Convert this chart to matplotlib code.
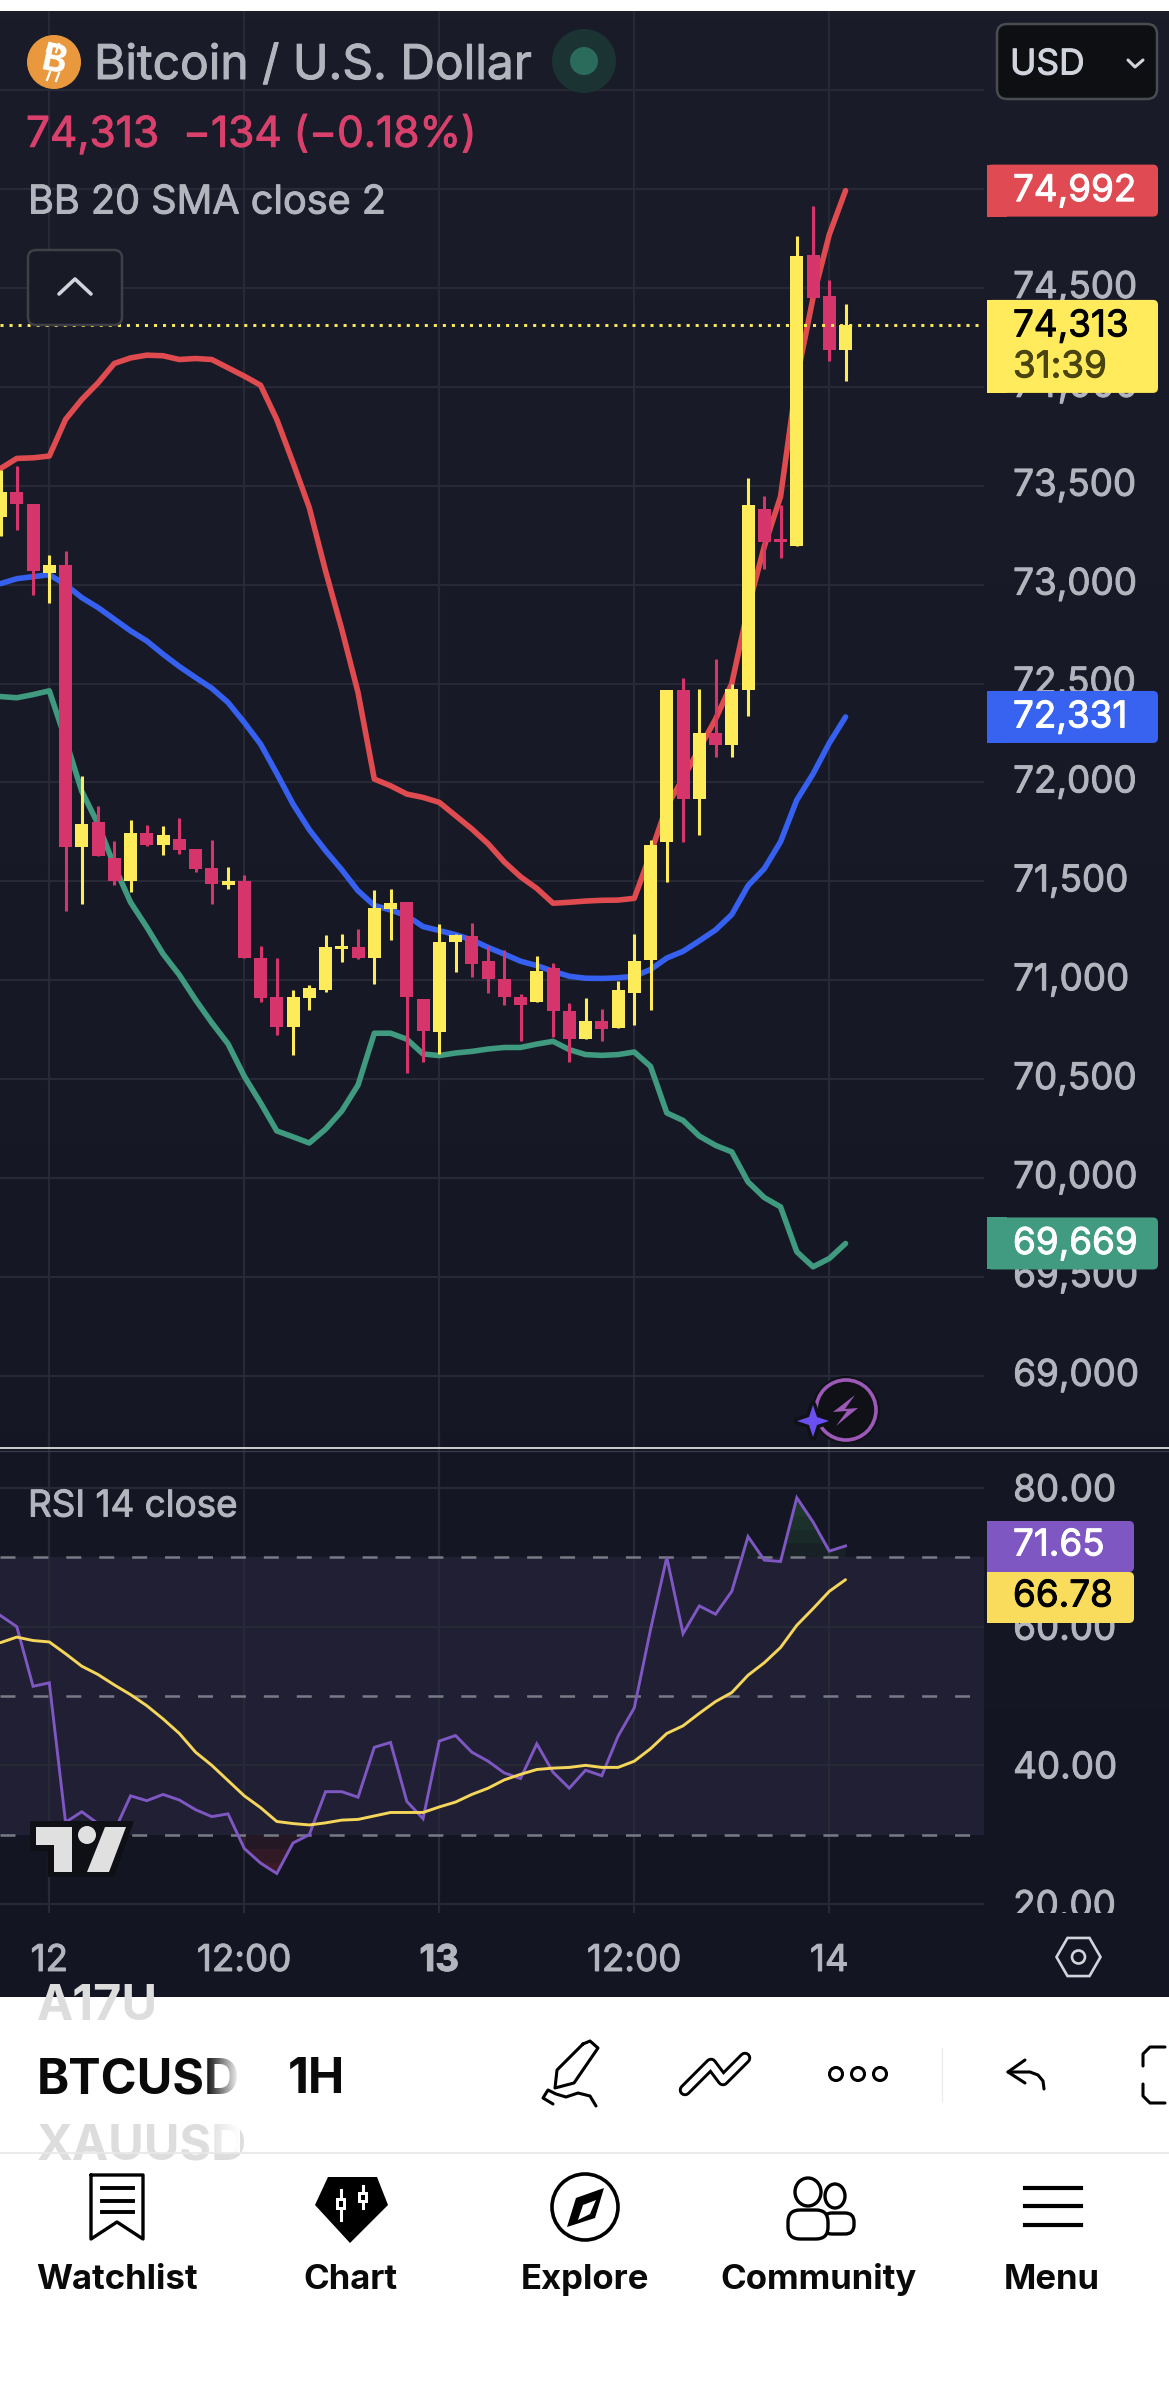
import numpy as np
import matplotlib
matplotlib.use("Agg")
import matplotlib.pyplot as plt
import matplotlib.patheffects as pe
from matplotlib.patches import Circle, Ellipse, FancyBboxPatch, Polygon, Rectangle, RegularPolygon
from matplotlib.transforms import Affine2D, Bbox

plt.rcParams['font.family'] = ['Inter', 'DejaVu Sans']
plt.rcParams['lines.scale_dashes'] = False

# hourly BTCUSD bars, hour 0 is the start of the 12th
hours = list(range(-3, 50))
opens = [73340, 73468, 73409, 73059, 73098, 71674, 71800, 71616, 71504, 71746, 71684, 71713, 71665, 71568, 71481,
         71504, 71114, 70916, 70765, 70910, 70951, 71160, 71168, 71114, 71361, 71396, 70903, 70736, 71191, 71225,
         71099, 71007, 70916, 70891, 71062, 70846, 70701, 70796, 70756, 70937, 71102, 71700, 72465, 71916, 72248,
         72188, 72465, 73383, 73221, 73197, 74668, 74457, 74184]
highs = [73581, 73598, 73409, 73148, 73168, 72032, 71881, 71705, 71810, 71785, 71781, 71821, 71665, 71709, 71574,
         71531, 71173, 71114, 70951, 70978, 71230, 71235, 71261, 71458, 71462, 71396, 70903, 71285, 71235, 71288,
         71171, 71153, 70928, 71124, 71089, 70883, 70912, 70853, 70994, 71235, 71709, 72465, 72530, 72470, 72626,
         72500, 73541, 73449, 73403, 74764, 74915, 74541, 74420]
lows = [73244, 73274, 72946, 72906, 71351, 71384, 71630, 71481, 71446, 71678, 71632, 71640, 71547, 71384, 71462,
        71110, 70891, 70721, 70624, 70850, 70938, 71094, 71108, 70982, 71204, 70529, 70585, 70625, 71040, 71017,
        70933, 70875, 70691, 70891, 70711, 70585, 70701, 70694, 70756, 70774, 70848, 71494, 71700, 71733, 72128,
        72128, 72337, 73078, 73137, 73197, 74448, 74133, 74030]
closes = [73468, 73406, 73067, 73098, 71674, 71790, 71630, 71500, 71746, 71684, 71732, 71659, 71562, 71485, 71504,
          71110, 70910, 70765, 70916, 70959, 71168, 71175, 71114, 71365, 71392, 70916, 70741, 71194, 71228, 71082,
          71004, 70916, 70873, 71049, 70843, 70702, 70796, 70752, 70948, 71097, 71682, 72465, 71916, 72248, 72188,
          72470, 73400, 73214, 73214, 74663, 74448, 74187, 74313]

bb_upper = [73587, 73638, 73641, 73650, 73835, 73936, 74020, 74118, 74146, 74160, 74157, 74138, 74143, 74138, 74096,
            74054, 74008, 73835, 73616, 73389, 73069, 72774, 72454, 72017, 71983, 71941, 71924, 71899, 71832, 71765,
            71690, 71598, 71523, 71464, 71389, 71394, 71400, 71404, 71405, 71414, 71640, 71880, 72020, 72170, 72320,
            72500, 72880, 73193, 73445, 74040, 74450, 74770, 74992]
bb_basis = [73005, 73030, 73040, 73050, 73000, 72934, 72884, 72825, 72766, 72715, 72648, 72586, 72530, 72476, 72404,
            72303, 72194, 72045, 71890, 71761, 71655, 71558, 71452, 71378, 71355, 71326, 71271, 71251, 71230, 71204,
            71166, 71132, 71096, 71074, 71045, 71020, 71010, 71009, 71012, 71020, 71054, 71112, 71146, 71199, 71254,
            71332, 71478, 71564, 71700, 71911, 72043, 72199, 72331]
bb_lower = [72434, 72428, 72444, 72463, 72216, 71955, 71790, 71578, 71394, 71268, 71133, 71027, 70901, 70785, 70678,
            70514, 70380, 70238, 70208, 70177, 70247, 70339, 70470, 70732, 70732, 70702, 70627, 70619, 70632, 70640,
            70652, 70660, 70660, 70677, 70691, 70649, 70624, 70620, 70624, 70637, 70564, 70329, 70291, 70212, 70165,
            70132, 69980, 69901, 69854, 69627, 69551, 69593, 69669]

rsi = [61.6, 60.0, 51.4, 51.9, 31.8, 33.3, 31.6, 30.5, 35.6, 34.9, 35.8, 35.0, 33.6, 32.6, 33.0, 28.0, 25.9, 24.4,
       28.8, 30.0, 36.2, 36.2, 35.4, 42.6, 43.3, 34.8, 32.3, 43.5, 44.3, 41.9, 40.6, 38.9, 38.1, 43.1, 39.0, 36.7,
       39.3, 38.5, 44.2, 48.3, 59.6, 70.0, 59.0, 63.0, 61.8, 65.1, 73.0, 69.6, 69.4, 78.6, 75.1, 70.9, 71.65]
rsi_ma = [57.7, 58.5, 58.0, 57.8, 56.1, 54.3, 53.1, 51.6, 50.2, 48.6, 46.7, 44.6, 41.9, 40.0, 37.8, 35.6, 33.9, 31.9,
          31.6, 31.4, 31.7, 32.1, 32.2, 32.7, 33.2, 33.2, 33.2, 34.0, 34.7, 35.8, 36.7, 37.9, 38.7, 39.4, 39.6, 39.7,
          40.0, 39.7, 39.7, 40.6, 42.4, 44.6, 45.7, 47.5, 49.2, 50.5, 53.0, 54.8, 57.0, 60.2, 62.6, 65.1, 66.78]

price_ticks = [69000, 69500, 70000, 70500, 71000, 71500, 72000, 72500, 73000, 73500, 74000, 74500]
price_grid_extra = [75000, 75500]
rsi_ticks = [20, 40, 60, 80]
rsi_levels = [30, 50, 70]
time_ticks = [0, 12, 24, 36, 48]
time_labels = ['12', '12:00', '13', '12:00', '14']
countdown = '31:39'

W, H = 1169, 2401
UP = '#FDEB5A'
DOWN = '#D5356A'
GRID = '#272A36'
TXT = '#B2B5BE'
UI_FONT = 26.5


def px_axes(x0, y0, x1, y1, **kw):
    return fig.add_axes([x0 / W, 1 - y1 / H, (x1 - x0) / W, (y1 - y0) / H], **kw)


def to_px(axes, v):
    return H - axes.transData.transform((0, v))[1]


def badge(x0, y0, x1, y1, color, r=5):
    ui.add_patch(FancyBboxPatch((x0 + r, y0 + r), x1 - x0 - 2 * r, y1 - y0 - 2 * r,
                                boxstyle='round,pad=%d' % r, fc=color, ec='none', zorder=5))
    ui.add_patch(Rectangle((x0, y0), 20, y1 - y0, fc=color, ec='none', zorder=5))


def stroke(xs, ys, color='black', lw=2.2, z=8):
    ui.plot(xs, ys, color=color, lw=lw, zorder=z, solid_capstyle='round', solid_joinstyle='round')


def heavy(color, w=0.7):
    # Inter only comes as regular and bold here, fatten the regular a little
    return [pe.withStroke(linewidth=w, foreground=color)]


def label(x, y, s, color, size, z=6, **kw):
    return ui.text(x, y, s, color=color, fontsize=size, va='center', zorder=z, path_effects=heavy(color), **kw)


fig = plt.figure(figsize=(W / 100, H / 100), dpi=100, facecolor='white')

# dark chart backdrop
bg = px_axes(0, 11, W, 1997, zorder=0)
top_c = np.array([0x1A, 0x1D, 0x29]) / 255
bot_c = np.array([0x13, 0x16, 0x22]) / 255
t = np.linspace(0, 1, 256)[:, None, None]
bg.imshow(top_c[None, None, :] * (1 - t) + bot_c[None, None, :] * t, aspect='auto')
bg.axis('off')

# price pane
ax = px_axes(0, 11, 984, 1448, zorder=1)
ax.patch.set_visible(False)
ax.set_xlim((0 - 49.3) / 16.25, (984 - 49.3) / 16.25)
ax.set_ylim(68635, 75900)
for s in ax.spines.values():
    s.set_visible(False)
ax.hlines(price_ticks + price_grid_extra, ax.get_xlim()[0], ax.get_xlim()[1], color=GRID, lw=1.6, zorder=1)
ax.vlines(time_ticks, 68635, 75900, color=GRID, lw=1.6, zorder=1)
ax.yaxis.tick_right()
ax.set_yticks(price_ticks)
ax.set_yticklabels(['{:,}'.format(p) for p in price_ticks], fontsize=UI_FONT, color=TXT)
ax.tick_params(axis='y', length=0, pad=21)
ax.set_xticks([])
for lab in ax.get_yticklabels():
    lab.set_transform(lab.get_transform() + Affine2D().translate(0, 3))
    lab.set_path_effects(heavy(TXT))

ax.plot(hours, bb_upper, color='#E04B50', lw=4, zorder=2, solid_capstyle='round')
ax.plot(hours, bb_basis, color='#3660F0', lw=4, zorder=2, solid_capstyle='round')
ax.plot(hours, bb_lower, color='#3F9A7F', lw=4, zorder=2, solid_capstyle='round')

colors = [UP if c >= o else DOWN for o, c in zip(opens, closes)]
ax.vlines(hours, lows, highs, colors=colors, lw=2.2, zorder=3)
body_low = [min(o, c) for o, c in zip(opens, closes)]
body_h = [max(abs(c - o), 15) for o, c in zip(opens, closes)]
ax.bar(hours, body_h, bottom=body_low, width=0.8, color=colors, zorder=3)

ax.plot(ax.get_xlim(), [closes[-1], closes[-1]], color=UP, lw=2.1, dashes=(2.2, 4.3), zorder=4)

# RSI pane
rx = px_axes(0, 1449, 984, 1913, zorder=1)
rx.patch.set_visible(False)
rx.set_xlim(ax.get_xlim())
rx.set_ylim(18.7, 85.63)
for s in rx.spines.values():
    s.set_visible(False)
rx.axhspan(rsi_levels[0], rsi_levels[2], color='#201F33', lw=0, zorder=0.5)
rx.hlines(rsi_ticks, rx.get_xlim()[0], rx.get_xlim()[1], color=GRID, lw=1.6, zorder=1)
rx.vlines(time_ticks, 18.7, 85.63, color=GRID, lw=1.6, zorder=1)
for lvl in rsi_levels:
    rx.plot(rx.get_xlim(), [lvl, lvl], color='#787B86', lw=1.8, dashes=(10.8, 12.9), zorder=2)

# shaded excursions outside the 30-70 band, darker near the band edge
for top in [70, 72, 74, 76]:
    rx.fill_between(hours, top, rsi, where=[v > top for v in rsi], interpolate=True,
                    color='#2A5A3A', alpha=0.16, lw=0, zorder=1.5)
for low in [30, 28, 26]:
    rx.fill_between(hours, low, rsi, where=[v < low for v in rsi], interpolate=True,
                    color='#6A2430', alpha=0.2, lw=0, zorder=1.5)

rx.plot(hours, rsi, color='#7E57C2', lw=2.1, zorder=3, solid_joinstyle='miter')
rx.plot(hours, rsi_ma, color='#F5D65A', lw=2.1, zorder=3, solid_capstyle='round')

rx.yaxis.tick_right()
rx.set_yticks(rsi_ticks)
rx.set_yticklabels(['%.2f' % v for v in rsi_ticks], fontsize=UI_FONT, color=TXT)
rx.tick_params(axis='y', length=0, pad=21)
rx.set_xticks(time_ticks)
rx.set_xticklabels(time_labels, fontsize=UI_FONT, color=TXT)
rx.tick_params(axis='x', length=0, pad=23)
rx.get_xticklabels()[2].set_fontweight('bold')
pane_clip = Bbox([[0, H - 1913], [W, H - 1449]])
for lab in rx.get_yticklabels():
    lab.set_clip_box(pane_clip)
    lab.set_clip_on(True)
    lab.set_path_effects(heavy(TXT))
for lab in rx.get_xticklabels():
    lab.set_path_effects(heavy(TXT))

# everything else is drawn in pixel space on top
ui = fig.add_axes([0, 0, 1, 1], zorder=3)
ui.patch.set_visible(False)
ui.set_xlim(0, W)
ui.set_ylim(H, 0)
ui.axis('off')

ui.plot([0, W], [1448, 1448], color='white', lw=1.1, zorder=4)
ui.plot([0, W], [1451, 1451], color='#3A3D48', lw=0.9, zorder=4)

# header
ui.add_patch(Circle((54, 62), 27, fc='#E9983E', ec='none', zorder=5))
ui.text(54, 62, 'B', color='white', fontsize=27, fontweight='bold', rotation=-12, ha='center', va='center', zorder=6)
ui.plot([50, 47], [43, 51], color='white', lw=1.6, zorder=6)
ui.plot([59, 56], [44, 52], color='white', lw=1.6, zorder=6)
ui.plot([50, 47], [72, 80], color='white', lw=1.6, zorder=6)
ui.plot([59, 56], [73, 81], color='white', lw=1.6, zorder=6)
label(94, 66, 'Bitcoin / U.S. Dollar', TXT, 34.5)
ui.add_patch(Circle((584, 61), 32, fc='#1B3333', ec='none', zorder=5))
ui.add_patch(Circle((584, 61), 14, fc='#2B6B5C', ec='none', zorder=6))
label(26, 135, '{:,}  −134 (−0.18%)'.format(closes[-1]), '#D9416C', 30.5)
label(28, 203, 'BB 20 SMA close 2', TXT, 28.5)
label(28, 1507, 'RSI 14 close', TXT, 26.5)
ui.add_patch(FancyBboxPatch((36, 258), 78, 59, boxstyle='round,pad=8', fc='#181B26', ec='#3E4046', lw=1.8, zorder=5))
stroke([59, 75, 91], [294, 279, 294], color='#D1D4DC', lw=2.6, z=6)

# currency selector
ui.add_patch(FancyBboxPatch((1007, 34), 140, 55, boxstyle='round,pad=10', fc='#0E0F13', ec='#4A4C52', lw=1.8, zorder=5))
label(1010, 65, 'USD', '#D1D4DC', 25.5)
stroke([1128, 1135, 1143], [60, 67, 60], color='#D1D4DC', lw=2.2, z=6)

# last value labels on the scale
TXT_X = 1013
y_up = to_px(ax, bb_upper[-1])
badge(987, y_up - 26, 1158, y_up + 26, '#E04A52')
label(TXT_X, y_up + 1, '{:,}'.format(bb_upper[-1]), 'white', UI_FONT)
y_c = to_px(ax, closes[-1])
badge(987, y_c - 25, 1158, y_c + 68, '#FFEB5B')
label(TXT_X, y_c + 2, '{:,}'.format(closes[-1]), 'black', UI_FONT)
label(TXT_X, y_c + 43, countdown, '#4A4410', UI_FONT)
y_m = to_px(ax, bb_basis[-1])
badge(987, y_m - 26, 1158, y_m + 26, '#3763F0')
label(TXT_X, y_m + 1, '{:,}'.format(bb_basis[-1]), 'white', UI_FONT)
y_l = to_px(ax, bb_lower[-1])
badge(987, y_l - 26, 1158, y_l + 26, '#419B80')
label(TXT_X, y_l + 1, '{:,}'.format(bb_lower[-1]), 'white', UI_FONT)

badge(987, 1521, 1134, 1572, '#7E57C2')
label(TXT_X, 1546, '%.2f' % rsi[-1], 'white', UI_FONT)
badge(987, 1572, 1134, 1623, '#F9DC5C')
label(TXT_X, 1597, '%.2f' % rsi_ma[-1], 'black', UI_FONT)

# lightning badge near the bottom of the price pane
ui.add_patch(Circle((846, 1410), 34, fc='#101116', ec='none', zorder=5))
ui.add_patch(Circle((846, 1410), 30, fc='#101116', ec='#9C59B8', lw=2.6, zorder=5))
ui.add_patch(Polygon([(855, 1395), (833, 1412), (847, 1411), (836, 1426), (858, 1408), (845, 1409)],
                     fc='#9C59B8', ec='none', zorder=6))
star = [(813, 1405), (817, 1417), (829, 1421), (817, 1425), (813, 1437), (809, 1425), (797, 1421), (809, 1417)]
ui.add_patch(Polygon(star, fc='#6B4FF0', ec='#101116', lw=5, zorder=6, joinstyle='round'))
ui.add_patch(Polygon(star, fc='#6B4FF0', ec='none', zorder=6.5))

# watermark
logo_bg = [(30, 1821), (134, 1821), (114, 1877), (48, 1877), (48, 1851), (30, 1851)]
ui.add_patch(Polygon(logo_bg, fc='#0F1016', ec='none', zorder=5))
ui.add_patch(Polygon([(36, 1827), (72, 1827), (72, 1872), (54, 1872), (54, 1845), (36, 1845)], fc='#E0E0E0', ec='none', zorder=6))
ui.add_patch(Circle((87, 1835), 9, fc='#E0E0E0', ec='none', zorder=6))
ui.add_patch(Polygon([(105, 1827), (126, 1827), (109, 1872), (87, 1872)], fc='#E0E0E0', ec='none', zorder=6))

# settings hexagon
ui.add_patch(RegularPolygon((1078.5, 1957), 6, radius=22, orientation=np.pi / 2, fc='none', ec='#D1D4DC', lw=1.9, zorder=6))
ui.add_patch(Circle((1078.5, 1957), 6.5, fc='none', ec='#D1D4DC', lw=1.9, zorder=6))

# symbol bar, the neighbouring rows are cut by the list edges
ui.text(37, 2007, 'A17U', color='#DDDDDD', fontsize=35, fontweight='bold', va='center', zorder=6,
        clip_on=True, clip_box=Bbox([[0, H - 2100], [239, H - 1997]]))
ui.text(37, 2080, 'BTCUSD', color='#0A0A0A', fontsize=35, fontweight='bold', va='center', zorder=6,
        clip_on=True, clip_box=Bbox([[0, 0], [239, H]]))
ui.text(288, 2080, '1H', color='#0A0A0A', fontsize=35, fontweight='bold', va='center', zorder=6)
ui.text(37, 2146, 'XAUUSD', color='#DDDDDD', fontsize=35, fontweight='bold', va='center', zorder=6,
        clip_on=True, clip_box=Bbox([[0, H - 2153], [239, H - 2100]]))
fade = np.ones((1, 64, 4))
fade[0, :, 3] = np.linspace(0, 1, 64)
ui.imshow(fade, extent=(205, 240, 2153, 1998), aspect='auto', zorder=7)
ui.set_xlim(0, W)
ui.set_ylim(H, 0)

# toolbar icons
stroke([583, 590, 598, 574, 555, 557, 583], [2044, 2041, 2048, 2083, 2088, 2070, 2044], lw=2.2)
stroke([553, 543, 548, 556, 566, 578, 590, 596], [2104, 2098, 2090, 2094, 2097, 2093, 2096, 2106], lw=2.2)
stroke([685, 711, 723, 745], [2090, 2064, 2080, 2058], lw=9)
stroke([685, 711, 723, 745], [2090, 2064, 2080, 2058], color='white', lw=4.8, z=9)
for cx in [836, 858, 880]:
    ui.add_patch(Circle((cx, 2074), 6.5, fc='none', ec='black', lw=2.2, zorder=8))
ui.plot([942, 942], [2048, 2102], color='#EEEEEE', lw=1, zorder=6)
stroke([1025, 1008, 1025], [2060, 2072, 2083], lw=2.2)
stroke([1008, 1030, 1038, 1043, 1044], [2072, 2072, 2075, 2081, 2089], lw=2.2)
stroke([1165, 1150, 1143, 1143], [2047, 2047, 2054, 2066], lw=2.2)
stroke([1165, 1150, 1143, 1143], [2103, 2103, 2096, 2084], lw=2.2)
ui.plot([0, W], [2153, 2153], color='#E8E8E8', lw=1.3, zorder=8)

# navigation icons
stroke([91, 143, 143, 117, 91, 91], [2175, 2175, 2239, 2222, 2239, 2175], lw=2.4)
for ly in [2188, 2201, 2212]:
    ui.plot([102, 133], [ly, ly], color='black', lw=2.8, zorder=8)
ui.add_patch(Polygon([(328, 2177), (377, 2177), (388, 2205), (350, 2243), (315, 2205)], fc='black', ec='none', zorder=8))
ui.plot([341, 341], [2190, 2220], color='white', lw=2.2, zorder=9)
ui.add_patch(Rectangle((336, 2198), 10, 12, fc='white', ec='none', zorder=9))
ui.add_patch(Rectangle((339, 2201), 4, 6, fc='black', ec='none', zorder=9.5))
ui.plot([363, 363], [2186, 2208], color='white', lw=2.2, zorder=9)
ui.add_patch(Rectangle((358, 2192), 10, 11, fc='white', ec='none', zorder=9))
ui.add_patch(Rectangle((361, 2195), 4, 5, fc='black', ec='none', zorder=9.5))
ui.add_patch(Circle((585, 2207), 33, fc='none', ec='black', lw=2.6, zorder=8))
ui.add_patch(Polygon([(604, 2188), (595, 2218), (567, 2227), (576, 2198)], fc='black', ec='none', zorder=8))
ui.add_patch(Polygon([(596, 2200), (590, 2214), (578, 2220), (583, 2205)], fc='white', ec='none', zorder=9))
ui.add_patch(Ellipse((808, 2192), 26, 28, fc='none', ec='black', lw=2.4, zorder=8))
ui.add_patch(Ellipse((835, 2196), 20, 24, fc='none', ec='black', lw=2.4, zorder=8))
ui.add_patch(FancyBboxPatch((800, 2222), 16, 5, boxstyle='round,pad=12', fc='white', ec='black', lw=2.4, zorder=8.5))
ui.add_patch(FancyBboxPatch((832, 2222), 13, 3, boxstyle='round,pad=9', fc='none', ec='black', lw=2.4, zorder=8))
for ly in [2188, 2206, 2225]:
    ui.plot([1025, 1081], [ly, ly], color='black', lw=3, zorder=8)

nav_names = ['Watchlist', 'Chart', 'Explore', 'Community', 'Menu']
nav_x = [117, 350, 585, 818, 1052]
for name, nx in zip(nav_names, nav_x):
    ui.text(nx, 2280, name, color='#0A0A0A', fontsize=25, fontweight='bold', ha='center', va='center', zorder=8)

fig.savefig('out.png', dpi=100)
